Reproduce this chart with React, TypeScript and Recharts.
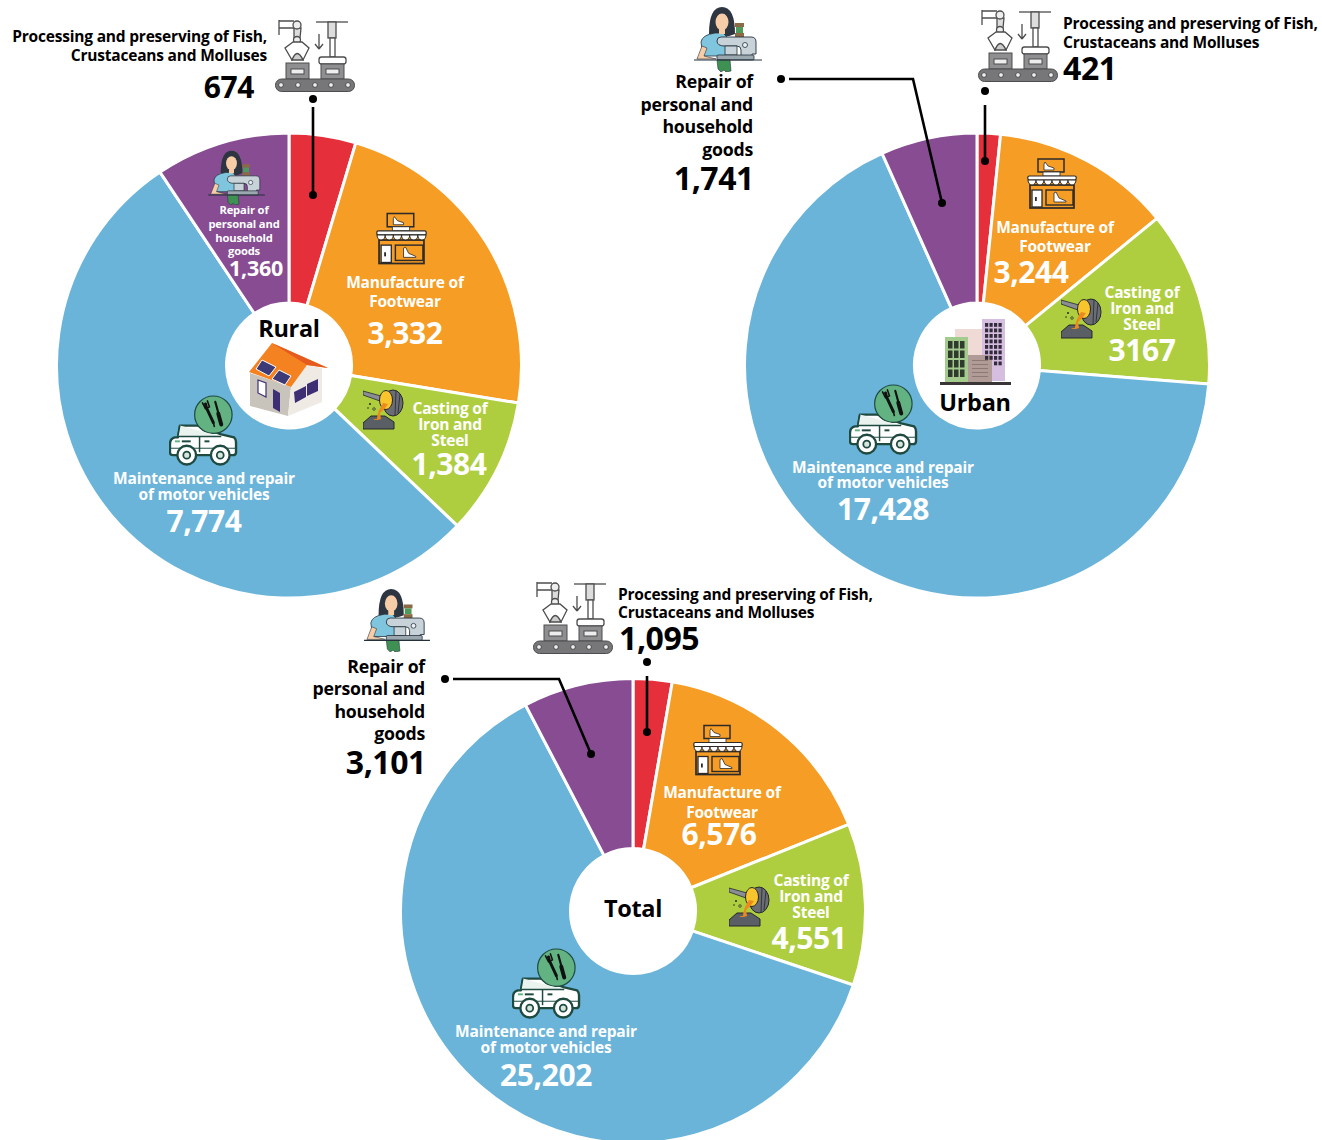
import React from 'react'
import { PieChart, Pie, Cell } from 'recharts'

const categories = [
  'Processing and preserving of Fish, Crustaceans and Molluses',
  'Manufacture of Footwear',
  'Casting of Iron and Steel',
  'Maintenance and repair of motor vehicles',
  'Repair of personal and household goods',
]
const ruralValues = [674, 3332, 1384, 7774, 1360]
const urbanValues = [421, 3244, 3167, 17428, 1741]
const totalValues = [1095, 6576, 4551, 25202, 3101]

const COLORS = ['#E52F3B', '#F59D24', '#AFCE3F', '#6AB4DA', '#874C92']
const FONT = '"Open Sans", sans-serif'

const toRows = (values: number[]) => values.map((value, i) => ({ name: categories[i], value }))
const fmt = (n: number) => n.toLocaleString('en-US')

// text anchored on its vertical middle; x is left, centre or right edge depending on align
function Txt({ x, y, size, children, align = 'center', color = '#fff', weight = 700 }: any) {
  const tx = align === 'center' ? '-50%' : align === 'right' ? '-100%' : '0'
  return (
    <div
      style={{
        position: 'absolute',
        left: x,
        top: y,
        transform: `translate(${tx}, -50%)`,
        fontFamily: FONT,
        fontSize: size,
        fontWeight: weight,
        letterSpacing: '-0.013em',
        color,
        lineHeight: 0.9,
        whiteSpace: 'nowrap',
      }}
    >
      {children}
    </div>
  )
}

function Lines({ x, ys, size, lines, align = 'center', color = '#fff' }: any) {
  return lines.map((line: string, i: number) => (
    <Txt key={i} x={x} y={ys[i] + 1} size={size} align={align} color={color}>
      {line}
    </Txt>
  ))
}

function Icon({ x, y, w, h, vw = 100, vh = 100, children }: any) {
  return (
    <svg
      style={{ position: 'absolute', left: x, top: y }}
      width={w}
      height={h}
      viewBox={`0 0 ${vw} ${vh}`}
    >
      {children}
    </svg>
  )
}

function FishIcon(p: any) {
  const dark = '#4D4D4F'
  return (
    <Icon {...p} vw={80} vh={73}>
      <g fill="none" stroke={dark} strokeWidth="1.3">
        <path d="M4 1v15M4 2h15M4 9h15" />
        <path d="M19 9h7l-1 10h-6z" fill="#ddd" />
        <circle cx="22" cy="6" r="4" fill="#eee" />
        <circle cx="22" cy="21" r="3.5" fill="#eee" />
        <path d="M18 23l-8 6 7 12 5-6 6 6 6-12-7-6z" fill="#fff" />
        <path d="M17 41q5-13 11 0z" fill="#ccc" />
        <path d="M44 15v15M44 30l-4-5M44 30l4-5" />
        <path d="M41 3h32" />
        <rect x="53" y="3" width="8" height="16" fill="#ddd" />
        <rect x="55" y="19" width="5" height="19" fill="#fff" />
      </g>
      <rect x="44" y="38" width="27" height="7" rx="2.5" fill="#fff" stroke={dark} strokeWidth="1.3" />
      <rect x="11" y="44" width="23" height="16" fill="#8F8F91" stroke={dark} />
      <rect x="46" y="45" width="23" height="15" fill="#8F8F91" stroke={dark} />
      <rect x="16" y="50" width="13" height="5" fill="#eee" stroke={dark} />
      <rect x="51" y="50" width="13" height="5" fill="#eee" stroke={dark} />
      <rect x="0.5" y="60" width="79" height="12.5" rx="6" fill="#77777A" stroke={dark} />
      {[6, 23, 40, 56, 73].map((cx) => (
        <circle key={cx} cx={cx} cy="66" r="2.4" fill="#eee" stroke={dark} />
      ))}
    </Icon>
  )
}

function RepairIcon(p: any) {
  const line = '#25303A'
  return (
    <Icon {...p} vw={68} vh={66}>
      <path d="M15 28q0-27 13-27t13 27q-13 6-26 0z" fill="#2C3540" />
      <path d="M9 50l-2-14q1-7 14-9h8l8 8 2 15z" fill="#7FC5DE" stroke={line} strokeWidth=".8" />
      <ellipse cx="28" cy="16" rx="6.5" ry="8.5" fill="#F7CDA8" />
      <path d="M25 23h6v5h-6z" fill="#F7CDA8" />
      <path d="M3 53l5-13 5 2-3 8 12 3z" fill="#F7CDA8" stroke={line} strokeWidth=".6" />
      <rect x="41" y="17" width="9" height="4" fill="#8C6A45" />
      <rect x="42" y="21" width="7" height="6" fill="#4E9A5B" />
      <rect x="41" y="27" width="9" height="4" fill="#8C6A45" />
      <path d="M23 35q0-4 4-4h30q5 0 5 5v12h-4v2H47v-6q0-4-4-4H31q-8 0-8-5z" fill="#C7D2D9" stroke={line} strokeWidth=".9" />
      <path d="M31 40v9h12v-9z" fill="#C7D2D9" stroke={line} strokeWidth=".8" />
      <circle cx="51" cy="39" r="2.5" fill="#EAF0F3" stroke={line} strokeWidth=".8" />
      <rect x="23" y="49" width="37" height="5" rx="1" fill="#9CA8B0" stroke={line} strokeWidth=".8" />
      <path d="M23 54h13l1 11-5 1-2-2-3 2-3-3z" fill="#3E9053" stroke={line} strokeWidth=".6" />
      <path d="M0 54h68" stroke={line} strokeWidth="1.2" />
    </Icon>
  )
}

function ShopIcon(p: any) {
  const line = '#2D2A28'
  return (
    <Icon {...p} vw={50} vh={51}>
      <rect x="11" y="1" width="26" height="13" fill="none" stroke={line} strokeWidth="1.5" />
      <path d="M17 6l1-2 3 4 6 2v2H17z" fill="#fff" stroke={line} strokeWidth=".8" />
      <rect x="16" y="14" width="17" height="4" fill="#fff" stroke={line} strokeWidth=".8" />
      <rect x="3" y="27" width="44" height="23" fill="none" stroke={line} strokeWidth="1.7" />
      <rect x="0.8" y="18" width="48.4" height="4" rx="1.5" fill="#fff" stroke={line} strokeWidth="1.2" />
      {[0, 1, 2, 3, 4, 5].map((i) => (
        <path key={i} d={`M${1 + i * 8} 22h8a4 5 0 0 1-8 0z`} fill="#fff" stroke={line} strokeWidth="1" />
      ))}
      <rect x="5" y="32" width="10" height="17" fill="#fff" stroke={line} strokeWidth="1.3" />
      <rect x="8" y="39" width="1.8" height="4" fill={line} />
      <rect x="19" y="32" width="27" height="15" fill="none" stroke={line} strokeWidth="1.4" />
      <path d="M27 35l2-1 3 6 7 3v1H27z" fill="#fff" stroke={line} strokeWidth=".8" />
    </Icon>
  )
}

function CastIcon(p: any) {
  const line = '#25282C'
  return (
    <Icon {...p} vw={42} vh={42}>
      <path d="M0 2l18 5-1 5L0 6z" fill="#8A8E94" stroke={line} strokeWidth=".8" />
      <ellipse cx="30" cy="14" rx="10" ry="13" fill="#6A6E74" stroke={line} />
      <path d="M33 2l-1 24M37 5l-2 19" stroke={line} strokeWidth=".8" />
      <ellipse cx="23" cy="11" rx="6.5" ry="9.5" fill="#F8C62C" stroke={line} />
      <path d="M0 34l8-7h14l9 6v7H0z" fill="#5A5F66" stroke={line} />
      <path d="M20 14q-2 4-4 7-2 5-2 9h-4q3 2 8 0l-1-6q5-4 8-9z" fill="#EE8A1C" />
      <circle cx="7" cy="15" r="1" fill={line} />
      <circle cx="11" cy="20" r="1.3" fill="none" stroke={line} strokeWidth=".7" />
      <circle cx="5" cy="19" r="0.8" fill={line} />
    </Icon>
  )
}

function TruckIcon(p: any) {
  const line = '#1E4A40'
  return (
    <Icon {...p} vw={70} vh={72}>
      <path d="M11 31h18l24 9 13 3q2 2 2 5v10q0 3-3 3H4q-3 0-3-3v-8q0-6 5-7h3z" fill="#fff" stroke={line} strokeWidth="2.4" strokeLinejoin="round" />
      <circle cx="45" cy="20" r="19" fill="#62B282" stroke={line} strokeWidth="1.2" />
      <path d="M11 31l-2 11h44" fill="#EAF3EE" stroke={line} strokeWidth="1.5" />
      <g stroke="#111" fill="none" strokeLinecap="round">
        <path d="M37 9l1 4 7 15" strokeWidth="3" />
        <path d="M34 8l3 6 4-2-2-6M45 28l1 4" strokeWidth="1.6" />
        <path d="M47 7l3 11" strokeWidth="2.2" />
        <path d="M50 19l3 11" strokeWidth="4" />
      </g>
      <path d="M2 54h66" stroke={line} strokeWidth="1" />
      <path d="M31 42v16" stroke={line} strokeWidth="1.5" />
      <rect x="6" y="46" width="5" height="2" fill="#62B282" />
      <rect x="13" y="46" width="9" height="2" fill={line} />
      <rect x="36" y="46" width="5" height="2" fill={line} />
      {[18, 52].map((cx) => (
        <g key={cx}>
          <circle cx={cx} cy="61" r="9.5" fill="#fff" stroke={line} strokeWidth="2.4" />
          <circle cx={cx} cy="61" r="3.5" fill="#D7E6DD" stroke={line} strokeWidth="1.8" />
        </g>
      ))}
    </Icon>
  )
}

function HouseIcon(p: any) {
  return (
    <Icon {...p} vw={80} vh={74}>
      <path d="M1 30l41 14-3 29L1 63z" fill="#C9C4BB" />
      <path d="M42 44l16-22 15 3v34L39 73z" fill="#EFEBE4" />
      <path d="M23 0l56 25-21-3-16 22L0 29z" fill="#F58220" />
      <path d="M23 0l56 25-21-3z" fill="#E55A1F" />
      <path d="M13 17l14 7-7 9-13-7z" fill="#3D3A78" stroke="#fff" strokeWidth="1" />
      <path d="M30 27l12 6-6 9-13-6z" fill="#3D3A78" stroke="#fff" strokeWidth="1" />
      <path d="M45 49l12-6v11l-11 6zM58 41l11-5v12l-11 5z" fill="#3E2F74" />
      <path d="M9 37l8 3v14l-8-4z" fill="#fff" stroke="#3E2F74" strokeWidth="1.2" />
      <path d="M24 46l7 4v19l-7-4z" fill="#3E2F74" />
    </Icon>
  )
}

function CityIcon(p: any) {
  return (
    <Icon {...p} vw={71} vh={66}>
      <rect x="15" y="10" width="28" height="40" fill="#F0DAD6" />
      <rect x="42" y="0" width="23" height="62" fill="#D5BEDF" />
      <rect x="5" y="18" width="23" height="45" fill="#A4CB8E" />
      <rect x="28" y="36" width="24" height="27" fill="#B19B96" />
      {[0, 1, 2, 3, 4, 5, 6, 7].map((r) =>
        [0, 1, 2, 3].map((c) =>
          r < 7 || c > 1 ? (
            <rect key={`${r}-${c}`} x={45 + c * 4.5} y={4 + r * 5.5} width="3.2" height="3.8" fill="#332B3C" />
          ) : null,
        ),
      )}
      {[0, 1, 2, 3].map((r) =>
        [0, 1, 2].map((c) => (
          <rect key={`g${r}-${c}`} x={8 + c * 6} y={22 + r * 9.5} width="4.5" height="7.5" fill="#2F3B2C" />
        )),
      )}
      {[0, 1, 2, 3, 4].map((i) => (
        <rect key={i} x="32" y={41 + i * 4} width="16" height="1" fill="#8C7874" />
      ))}
      <rect x="0" y="63" width="71" height="3" fill="#3A3636" />
    </Icon>
  )
}

// leader lines with a dot on each end
function Leader({ points, from, to }: any) {
  return (
    <>
      <polyline points={points} fill="none" stroke="#000" strokeWidth="2.6" />
      <circle cx={from[0]} cy={from[1]} r="4" fill="#000" />
      <circle cx={to[0]} cy={to[1]} r="4" fill="#000" />
    </>
  )
}

const pies = [
  { key: 'rural', cx: 289, cy: 365.5, data: toRows(ruralValues) },
  { key: 'urban', cx: 977, cy: 365.5, data: toRows(urbanValues) },
  { key: 'total', cx: 633, cy: 911, data: toRows(totalValues) },
]

const fishLines = ['Processing and preserving of Fish,', 'Crustaceans and Molluses']
const repairLines = ['Repair of', 'personal and', 'household', 'goods']
const shoeLines = ['Manufacture of', 'Footwear']
const castLines = ['Casting of', 'Iron and', 'Steel']
const carLines = ['Maintenance and repair', 'of motor vehicles']

export default function App() {
  return (
    <div style={{ position: 'absolute', left: 0, top: 0, width: 1322, height: 1140, background: '#fff', overflow: 'hidden' }}>
      <PieChart width={1322} height={1140} margin={{ top: 0, right: 0, bottom: 0, left: 0 }}>
        {pies.map((p) => (
          <Pie
            key={p.key}
            data={p.data}
            dataKey="value"
            nameKey="name"
            cx={p.cx}
            cy={p.cy}
            innerRadius={62.5}
            outerRadius={232.5}
            startAngle={90}
            endAngle={-270}
            stroke="#fff"
            strokeWidth={3}
            isAnimationActive={false}
          >
            {p.data.map((_, i) => (
              <Cell key={i} fill={COLORS[i]} />
            ))}
          </Pie>
        ))}
      </PieChart>

      <svg style={{ position: 'absolute', left: 0, top: 0 }} width={1322} height={1140}>
        <Leader points="313,107 313,195" from={[313, 99]} to={[313, 195]} />
        <Leader points="985,105 985,161" from={[985, 91]} to={[985, 161]} />
        <Leader points="789,79 913,79 942,203" from={[781, 79]} to={[942, 203]} />
        <Leader points="647,676 647,732" from={[647, 662]} to={[647, 732]} />
        <Leader points="453,679 559,679 591,754" from={[445, 679]} to={[591, 754]} />
      </svg>

      {/* Rural */}
      <FishIcon x={275} y={18} w={80} h={75} />
      <RepairIcon x={208} y={150} w={57} h={55} />
      <ShopIcon x={376} y={212} w={51} h={53} />
      <CastIcon x={363} y={389} w={42} h={42} />
      <TruckIcon x={169} y={395} w={69} h={71} />
      <HouseIcon x={249} y={343} w={80} h={74} />
      <Lines x={267} ys={[36, 55]} size={15.5} align="right" color="#000" lines={fishLines} />
      <Txt x={254} y={86} size={30} align="right" color="#000">{fmt(ruralValues[0])}</Txt>
      <Lines x={244} ys={[209, 223, 237, 250]} size={11.2} lines={repairLines} />
      <Txt x={256} y={268} size={21.5}>{fmt(ruralValues[4])}</Txt>
      <Lines x={405} ys={[282, 301]} size={15.5} lines={shoeLines} />
      <Txt x={405} y={332} size={30}>{fmt(ruralValues[1])}</Txt>
      <Lines x={450} ys={[408, 424, 440]} size={15.5} lines={castLines} />
      <Txt x={449} y={463} size={30}>{fmt(ruralValues[2])}</Txt>
      <Lines x={204} ys={[478, 494]} size={15.5} lines={carLines} />
      <Txt x={204} y={520} size={30}>{fmt(ruralValues[3])}</Txt>
      <Txt x={289} y={329} size={23.5} color="#000">Rural</Txt>

      {/* Urban */}
      <FishIcon x={978} y={9} w={80} h={73} />
      <RepairIcon x={694} y={6} w={68} h={66} />
      <ShopIcon x={1027} y={158} w={50} h={51} />
      <CastIcon x={1061} y={298} w={42} h={42} />
      <TruckIcon x={849} y={384} w={69} h={71} />
      <CityIcon x={940} y={319} w={71} h={66} />
      <Lines x={1063} ys={[23, 42]} size={15.5} align="left" color="#000" lines={fishLines} />
      <Txt x={1063} y={68} size={32} align="left" color="#000">{fmt(urbanValues[0])}</Txt>
      <Lines x={753} ys={[81, 104, 126, 149]} size={17.7} align="right" color="#000" lines={repairLines} />
      <Txt x={754} y={178} size={32} align="right" color="#000">{fmt(urbanValues[4])}</Txt>
      <Lines x={1055} ys={[227, 246]} size={15.5} lines={shoeLines} />
      <Txt x={1031} y={271} size={30}>{fmt(urbanValues[1])}</Txt>
      <Lines x={1142} ys={[292, 308, 324]} size={15.5} lines={castLines} />
      <Txt x={1142} y={349} size={30}>{urbanValues[2]}</Txt>
      <Lines x={883} ys={[467, 482]} size={15.5} lines={carLines} />
      <Txt x={883} y={508} size={30}>{fmt(urbanValues[3])}</Txt>
      <Txt x={975} y={403} size={23.5} color="#000">Urban</Txt>

      {/* Total */}
      <FishIcon x={533} y={580} w={80} h={75} />
      <RepairIcon x={364} y={588} w={66} h={64} />
      <ShopIcon x={693} y={724} w={50} h={52} />
      <CastIcon x={729} y={886} w={42} h={42} />
      <TruckIcon x={512} y={948} w={69} h={71} />
      <Lines x={618} ys={[594, 612]} size={15.5} align="left" color="#000" lines={fishLines} />
      <Txt x={619} y={638} size={32} align="left" color="#000">{fmt(totalValues[0])}</Txt>
      <Lines x={425} ys={[666, 688, 711, 733]} size={17.7} align="right" color="#000" lines={repairLines} />
      <Txt x={426} y={762} size={32} align="right" color="#000">{fmt(totalValues[4])}</Txt>
      <Lines x={722} ys={[792, 812]} size={15.5} lines={shoeLines} />
      <Txt x={719} y={833} size={30}>{fmt(totalValues[1])}</Txt>
      <Lines x={811} ys={[880, 896, 912]} size={15.5} lines={castLines} />
      <Txt x={809} y={937} size={30}>{fmt(totalValues[2])}</Txt>
      <Lines x={546} ys={[1031, 1047]} size={15.5} lines={carLines} />
      <Txt x={546} y={1074} size={30}>{fmt(totalValues[3])}</Txt>
      <Txt x={633} y={909} size={23.5} color="#000">Total</Txt>
    </div>
  )
}
